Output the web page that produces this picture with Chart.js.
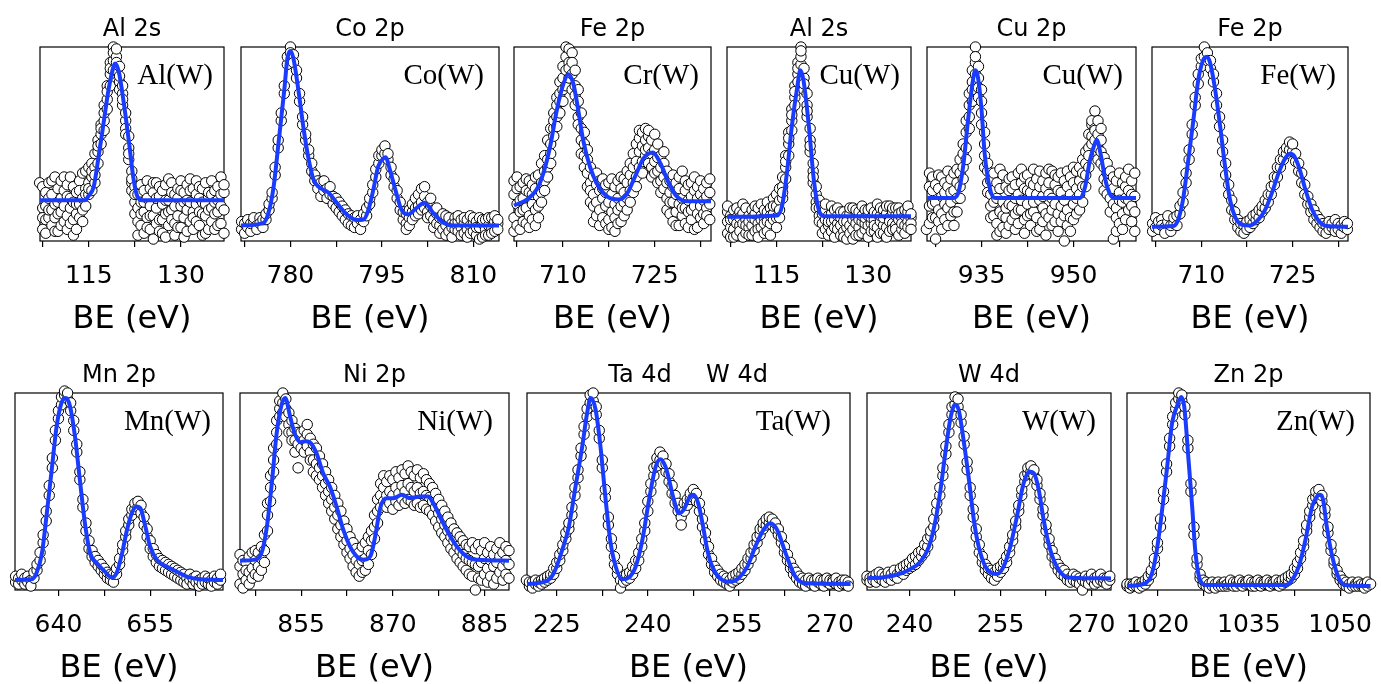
<!DOCTYPE html>
<html>
<head>
<meta charset="utf-8">
<script src="https://cdn.jsdelivr.net/npm/chart.js@4.4.0/dist/chart.umd.min.js"></script>
<style>
  html, body { margin: 0; padding: 0; background: #fff; }
  #wrap { position: relative; width: 1381px; height: 684px; overflow: hidden; }
  .panel { position: absolute; }
</style>
</head>
<body>
<div id="wrap"></div>
<script>
// intensity is in % of the panel height (0 = frame bottom, 100 = frame top)
// obs rows: [BE, counts, counts, ...] - several scans read at the same energy

// ---- Al 2s / Al(W) ----
const alFitX = [107.06, 114.4, 114.9, 115.8, 116.6, 117.4, 118.2, 119.1, 119.3, 119.9, 120.7, 121.5, 122.3, 122.9, 123.7, 137];
const alFitY = [21, 21, 23, 28, 43.6, 60.7, 77.8, 90.6, 91.5, 87, 71, 52, 31.6, 23, 21, 21];
const alObs = [
  [107.0, 21, 9, 14, 30], [107.5, 28, 6, 17, 12], [108.0, 18, 25, 11, 4], [108.5, 12, 30, 22, 16], [109.0, 24, 8, 16, 31],
  [109.5, 19, 33, 12, 5], [110.0, 27, 14, 5, 20], [110.5, 15, 22, 31, 8], [111.0, 10, 26, 18, 33], [111.5, 23, 13, 29, 6],
  [112.0, 17, 33, 9, 22], [112.5, 28, 11, 20, 3], [113.0, 14, 25, 6, 19], [113.5, 31, 19, 12, 26], [114.0, 22, 35, 16, 10],
  [114.5, 27, 18, 36, 24], [115.0, 30, 24, 38, 27], [115.5, 33, 26, 40, 36], [116.0, 38, 45, 30, 34], [116.5, 46, 52, 40, 49],
  [117.0, 55, 60, 50, 58], [117.5, 62, 70, 57, 66], [118.0, 73, 80, 68, 77], [118.5, 86, 92, 80, 89], [119.0, 93, 100, 88, 97],
  [119.5, 95, 88, 99, 92], [120.0, 90, 82, 85, 78], [120.5, 76, 70, 80, 73], [121.0, 62, 58, 66, 55], [121.5, 48, 54, 42, 45],
  [122.0, 36, 30, 26, 32], [122.5, 20, 28, 14, 24], [123.0, 24, 10, 17, 3], [123.5, 8, 20, 29, 14], [124.0, 15, 26, 4, 20],
  [124.5, 22, 12, 31, 7], [125.0, 6, 18, 27, 13], [125.5, 25, 13, 1, 30], [126.0, 17, 30, 9, 22], [126.5, 11, 23, 28, 5],
  [127.0, 26, 4, 19, 11], [127.5, 14, 29, 21, 2], [128.0, 21, 8, 32, 15], [128.5, 30, 16, 11, 25], [129.0, 9, 24, 18, 3],
  [129.5, 27, 13, 22, 7], [130.0, 18, 31, 7, 26], [130.5, 12, 25, 20, 2], [131.0, 29, 16, 5, 21], [131.5, 20, 10, 26, 32],
  [132.0, 15, 27, 12, 6], [132.5, 24, 19, 31, 10], [133.0, 8, 22, 28, 15], [133.5, 27, 14, 3, 20], [134.0, 19, 30, 13, 4],
  [134.5, 23, 6, 25, 16], [135.0, 31, 17, 10, 24], [135.5, 14, 26, 20, 6], [136.0, 28, 21, 8, 15], [136.5, 18, 33, 24, 9],
  [137.0, 25, 16, 29, 4]
];
const alTicks = [107.5, 115, 122.5, 130];

// ---- Co 2p / Co(W) ----
const coFitX = [771.9, 775.6, 776.4, 777.25, 778.1, 779.0, 779.5, 780.0, 780.5, 781.3, 782.2, 783.0, 783.8, 784.6, 786.3, 787.6, 789.25, 790.9, 792.0, 792.8, 793.6, 794.4, 795.3, 795.6, 796.3, 797.2, 798.2, 799.3, 800.7, 802.0, 803.4, 805.1, 806.7, 814.2];
const coFitY = [8, 9.4, 14.5, 28, 52, 78, 94, 98, 94, 78, 57, 42, 31.6, 28, 24.8, 19.7, 13.7, 10.8, 11.1, 16.2, 26.5, 38.5, 42.7, 43.2, 36.8, 26.5, 16.2, 13.7, 17.1, 19.7, 14.5, 9.4, 8, 8];
const coObs = [
  [772.0, 6, 10], [772.5, 9, 4], [773.0, 11, 7], [773.5, 5, 9], [774.0, 10, 12], [774.5, 8, 6],
  [775.0, 12, 9], [775.5, 7, 11], [776.0, 11, 14], [776.5, 16, 19], [777.0, 22, 25], [777.5, 34, 38],
  [778.0, 48, 52], [778.5, 62, 66], [779.0, 76, 80], [779.5, 91, 95], [780.0, 100, 97], [780.5, 96, 92],
  [781.0, 84, 88], [781.5, 72, 76], [782.0, 60, 64], [782.5, 52, 55], [783.0, 44, 47], [783.5, 36, 40],
  [784.0, 31, 34], [784.5, 27, 31], [785.0, 23, 30], [785.5, 26, 31], [786.0, 22, 27], [786.5, 24, 28],
  [787.0, 19, 23], [787.5, 17, 22], [788.0, 15, 20], [788.5, 13, 18], [789.0, 11, 16], [789.5, 9, 14],
  [790.0, 8, 13], [790.5, 7, 12], [791.0, 9, 13], [791.5, 6, 11], [792.0, 10, 14], [792.5, 13, 17],
  [793.0, 19, 22], [793.5, 25, 29], [794.0, 33, 37], [794.5, 40, 44], [795.0, 44, 47], [795.5, 45, 49],
  [796.0, 42, 45], [796.5, 34, 38], [797.0, 28, 32], [797.5, 22, 26], [798.0, 16, 20], [798.5, 11, 15],
  [799.0, 9, 14, 6], [799.5, 12, 16, 8], [800.0, 15, 19, 11], [800.5, 17, 22, 13], [801.0, 18, 24, 14], [801.5, 20, 27, 16],
  [802.0, 17, 23, 28], [802.5, 15, 20, 12], [803.0, 13, 18, 22], [803.5, 11, 16, 7], [804.0, 9, 14, 17], [804.5, 8, 12, 4],
  [805.0, 6, 11, 14], [805.5, 8, 13, 3], [806.0, 5, 10, 12], [806.5, 9, 7, 2], [807.0, 6, 12, 9], [807.5, 10, 5, 13],
  [808.0, 7, 11, 3], [808.5, 4, 9, 12], [809.0, 11, 6, 2], [809.5, 8, 13, 4], [810.0, 5, 9, 12], [810.5, 10, 3, 7],
  [811.0, 7, 12, 1], [811.5, 2, 9, 11], [812.0, 11, 6, 3], [812.5, 8, 3, 12], [813.0, 12, 7, 4], [813.5, 5, 10, 13],
  [814.0, 9, 6, 11]
];
const coTicks = [772.5, 780, 787.5, 795, 802.5, 810];

// ---- Fe 2p / Cr(W) ----
const crFitX = [702, 704.1, 705.7, 706.8, 707.9, 709.0, 710.1, 710.9, 711.7, 712.5, 713.3, 714.4, 715.5, 717.2, 719.1, 720.4, 721.8, 723.2, 724.7, 725.9, 727.3, 728.6, 730.3, 734.2];
const crFitY = [18.3, 21.4, 26.5, 35, 48.7, 67.5, 81.2, 86, 81, 67.5, 52, 38.5, 29.9, 23, 21.4, 24, 33.3, 42.7, 45.6, 40.2, 29.9, 23, 20.5, 20.5];
const crObs = [
  [702.0, 12, 24, 31, 5], [702.5, 8, 19, 27, 33], [703.0, 15, 28, 6, 21], [703.5, 22, 10, 30, 16], [704.0, 17, 26, 9, 32],
  [704.5, 25, 13, 31, 7], [705.0, 19, 29, 11, 24], [705.5, 27, 16, 33, 8], [706.0, 23, 34, 18, 12], [706.5, 30, 40, 25, 20],
  [707.0, 36, 44, 31, 26], [707.5, 42, 52, 38, 33], [708.0, 50, 58, 45, 40], [708.5, 58, 66, 54, 62], [709.0, 64, 74, 70, 59],
  [709.5, 72, 82, 76, 66], [710.0, 78, 90, 84, 72], [710.5, 88, 80, 95, 100], [711.0, 92, 84, 99, 89], [711.5, 86, 97, 78, 92],
  [712.0, 80, 70, 88, 75], [712.5, 72, 64, 60, 78], [713.0, 58, 66, 52, 45], [713.5, 50, 44, 56, 38], [714.0, 42, 35, 47, 28],
  [714.5, 38, 30, 26, 20], [715.0, 33, 24, 18, 10], [715.5, 29, 20, 13, 35], [716.0, 26, 16, 31, 8], [716.5, 22, 12, 27, 32],
  [717.0, 9, 25, 18, 29], [717.5, 20, 30, 11, 6], [718.0, 15, 24, 7, 32], [718.5, 28, 19, 12, 5], [719.0, 22, 31, 16, 9],
  [719.5, 18, 27, 33, 10], [720.0, 25, 32, 20, 13], [720.5, 30, 22, 36, 16], [721.0, 34, 26, 40, 20], [721.5, 38, 30, 45, 25],
  [722.0, 41, 33, 50, 28], [722.5, 46, 38, 53, 57], [723.0, 49, 41, 56, 35], [723.5, 52, 44, 47, 58], [724.0, 48, 54, 40, 57],
  [724.5, 45, 52, 38, 33], [725.0, 47, 41, 55, 35], [725.5, 43, 36, 50, 30], [726.0, 38, 44, 31, 25], [726.5, 33, 40, 27, 46],
  [727.0, 30, 22, 36, 16], [727.5, 25, 31, 14, 20], [728.0, 20, 28, 10, 34], [728.5, 24, 15, 30, 8], [729.0, 19, 27, 8, 33],
  [729.5, 22, 13, 36, 17], [730.0, 26, 17, 9, 31], [730.5, 15, 29, 21, 7], [731.0, 23, 11, 30, 16], [731.5, 18, 26, 6, 33],
  [732.0, 28, 14, 22, 7], [732.5, 12, 24, 31, 18], [733.0, 21, 9, 27, 14], [733.5, 17, 30, 13, 23], [734.0, 25, 19, 11, 32]
];
const crTicks = [702.5, 710, 717.5, 725, 732.5];

// ---- Al 2s / Cu(W) ----
const cuaFitX = [106.9, 115.1, 115.9, 116.7, 117.5, 118.4, 118.9, 119.4, 120.3, 121.1, 121.9, 122.7, 137];
const cuaFitY = [12.5, 13.2, 18, 35, 59, 79.5, 88, 83, 59, 31.6, 16.2, 12.8, 12.8];
const cuaObs = [
  [107.0, 10, 4, 15, 18], [107.5, 13, 7, 2, 11], [108.0, 6, 16, 11, 2], [108.5, 12, 3, 9, 17], [109.0, 15, 8, 5, 12],
  [109.5, 9, 14, 2, 19], [110.0, 4, 11, 17, 8], [110.5, 13, 7, 10, 3], [111.0, 8, 16, 3, 12], [111.5, 11, 5, 14, 18],
  [112.0, 17, 9, 6, 2], [112.5, 7, 13, 19, 11], [113.0, 12, 4, 9, 16], [113.5, 15, 10, 20, 5], [114.0, 9, 17, 13, 3],
  [114.5, 14, 22, 11, 18], [115.0, 18, 12, 24, 7], [115.5, 21, 16, 27, 12], [116.0, 28, 22, 33, 25], [116.5, 38, 32, 44, 41],
  [117.0, 50, 44, 56, 53], [117.5, 62, 57, 68, 65], [118.0, 74, 70, 80, 77], [118.5, 86, 82, 92, 89], [119.0, 100, 91, 95, 98],
  [119.5, 84, 89, 78, 81], [120.0, 70, 76, 64, 67], [120.5, 52, 58, 46, 49], [121.0, 36, 40, 30, 33], [121.5, 24, 28, 20, 17],
  [122.0, 17, 21, 13, 10], [122.5, 14, 9, 18, 4], [123.0, 11, 16, 6, 19], [123.5, 8, 13, 3, 10], [124.0, 14, 5, 10, 18],
  [124.5, 2, 11, 16, 7], [125.0, 9, 6, 13, 17], [125.5, 12, 3, 8, 15], [126.0, 5, 10, 15, 2], [126.5, 13, 1, 7, 10],
  [127.0, 8, 14, 4, 17], [127.5, 11, 6, 17, 1], [128.0, 3, 12, 9, 16], [128.5, 15, 7, 11, 3], [129.0, 10, 4, 13, 18],
  [129.5, 6, 16, 9, 12], [130.0, 13, 8, 2, 16], [130.5, 9, 17, 12, 5], [131.0, 5, 11, 15, 8], [131.5, 14, 7, 19, 2],
  [132.0, 10, 13, 4, 17], [132.5, 16, 8, 12, 4], [133.0, 7, 14, 18, 2], [133.5, 12, 5, 10, 18], [134.0, 15, 9, 17, 6],
  [134.5, 8, 13, 6, 17], [135.0, 11, 17, 14, 3], [135.5, 6, 12, 9, 15], [136.0, 13, 8, 16, 4], [136.5, 10, 15, 7, 18],
  [137.0, 12, 9, 14, 6]
];
const cuaTicks = [107.5, 115, 122.5, 130];

// ---- Cu 2p / Cu(W) ----
const cuFitX = [926.1, 930.4, 931.2, 932.0, 932.8, 933.6, 934.0, 934.4, 935.0, 935.5, 936.4, 937.2, 951.1, 951.9, 952.7, 953.5, 953.8, 954.4, 955.2, 956.0, 956.8, 960.2];
const cuFitY = [22.2, 22.2, 24.8, 38.5, 62.4, 83, 88, 84.6, 67.5, 45.3, 26.5, 22.2, 22.2, 28, 41.9, 50.4, 52, 45.3, 31.6, 24, 22.2, 22.2];
const cuObs = [
  [926.0, 24, 14, 31, 6], [926.5, 18, 28, 9, 35], [927.0, 26, 12, 33, 19], [927.5, 1, 20, 29, 12], [928.0, 16, 27, 10, 34],
  [928.5, 23, 33, 14, 6], [929.0, 11, 25, 30, 19], [929.5, 28, 17, 8, 36], [930.0, 20, 32, 13, 25], [930.5, 26, 15, 35, 8],
  [931.0, 30, 22, 37, 15], [931.5, 35, 42, 28, 22], [932.0, 45, 50, 38, 32], [932.5, 56, 62, 48, 42], [933.0, 70, 76, 64, 58],
  [933.5, 82, 88, 78, 72], [934.0, 92, 100, 86, 95], [934.5, 84, 90, 79, 74], [935.0, 72, 66, 60, 78], [935.5, 50, 56, 44, 38],
  [936.0, 36, 30, 40, 25], [936.5, 24, 18, 31, 12], [937.0, 13, 26, 20, 35], [937.5, 9, 22, 30, 3], [938.0, 15, 27, 5, 37],
  [938.5, 20, 7, 34, 13], [939.0, 12, 28, 17, 4], [939.5, 26, 8, 32, 19], [940.0, 18, 33, 11, 27], [940.5, 14, 29, 22, 6],
  [941.0, 24, 9, 35, 16], [941.5, 30, 16, 21, 37], [942.0, 11, 27, 33, 4], [942.5, 19, 34, 13, 26], [943.0, 25, 8, 30, 14],
  [943.5, 15, 29, 20, 37], [944.0, 32, 12, 24, 5], [944.5, 21, 6, 28, 36], [945.0, 17, 31, 10, 23], [945.5, 27, 14, 35, 3],
  [946.0, 12, 24, 30, 37], [946.5, 22, 36, 16, 8], [947.0, 29, 10, 19, 34], [947.5, 14, 26, 33, 5], [948.0, 25, 35, 18, 10],
  [948.5, 0, 21, 31, 13], [949.0, 16, 28, 36, 8], [949.5, 24, 33, 12, 5], [950.0, 19, 30, 38, 11], [950.5, 27, 36, 22, 14],
  [951.0, 31, 24, 38, 16], [951.5, 35, 28, 42, 20], [952.0, 40, 46, 34, 28], [952.5, 48, 55, 44, 38], [953.0, 54, 60, 50, 62],
  [953.5, 58, 67, 52, 57], [954.0, 55, 62, 48, 42], [954.5, 46, 52, 40, 58], [955.0, 38, 43, 32, 26], [955.5, 30, 35, 24, 40],
  [956.0, 22, 30, 15, 36], [956.5, 27, 1, 19, 33], [957.0, 17, 31, 12, 5], [957.5, 25, 35, 9, 21], [958.0, 20, 14, 30, 6],
  [958.5, 28, 11, 33, 22], [959.0, 16, 26, 21, 37], [959.5, 31, 18, 10, 24], [960.0, 23, 35, 15, 5]
];
const cuTicks = [927.5, 935, 942.5, 950, 957.5];

// ---- Fe 2p / Fe(W) ----
const feFitX = [701.9, 705.4, 706.2, 707.0, 707.8, 708.7, 709.5, 710.3, 710.9, 711.4, 712.2, 713.1, 713.9, 714.7, 715.5, 716.6, 718.0, 719.4, 720.5, 721.6, 722.7, 723.8, 724.6, 725.1, 726.0, 727.1, 728.2, 729.3, 730.6, 734.1];
const feFitY = [7.4, 7.7, 11.1, 21.4, 40.2, 62.4, 83, 93.2, 94.9, 92.3, 79.5, 59, 38.5, 21.4, 12.8, 8.5, 8, 11.1, 16.2, 24.8, 35, 42.7, 45, 44.4, 38.5, 26.5, 16.2, 10.3, 7.7, 7.4];
const feObs = [
  [702.0, 9, 5], [702.5, 12, 7], [703.0, 6, 10], [703.5, 11, 8], [704.0, 7, 4], [704.5, 10, 13],
  [705.0, 5, 8], [705.5, 9, 12], [706.0, 8, 13], [706.5, 14, 18], [707.0, 20, 25], [707.5, 30, 35],
  [708.0, 42, 47], [708.5, 55, 60], [709.0, 70, 74], [709.5, 81, 86], [710.0, 90, 94], [710.5, 95, 100],
  [711.0, 97, 93], [711.5, 89, 93], [712.0, 82, 86], [712.5, 70, 76], [713.0, 59, 64], [713.5, 46, 52],
  [714.0, 34, 40], [714.5, 24, 29], [715.0, 16, 21], [715.5, 11, 15], [716.0, 7, 11], [716.5, 5, 9],
  [717.0, 8, 4], [717.5, 10, 6], [718.0, 7, 11], [718.5, 9, 13], [719.0, 11, 14], [719.5, 12, 16],
  [720.0, 15, 18], [720.5, 17, 21], [721.0, 20, 24], [721.5, 24, 28], [722.0, 29, 33], [722.5, 33, 38],
  [723.0, 38, 42], [723.5, 42, 46], [724.0, 45, 48], [724.5, 47, 51], [725.0, 46, 50], [725.5, 41, 45],
  [726.0, 36, 40], [726.5, 30, 35], [727.0, 24, 29], [727.5, 19, 23], [728.0, 15, 19], [728.5, 11, 16],
  [729.0, 9, 13], [729.5, 7, 11], [730.0, 5, 9], [730.5, 8, 4], [731.0, 10, 6], [731.5, 7, 9],
  [732.0, 5, 11], [732.5, 9, 6], [733.0, 4, 8], [733.5, 10, 7], [734.0, 6, 9]
];
const feTicks = [702.5, 710, 717.5, 725, 732.5];

// ---- Mn 2p / Mn(W) ----
const mnFitX = [632.9, 635.6, 636.4, 637.3, 638.1, 638.9, 639.7, 640.5, 641.2, 641.9, 642.7, 643.5, 644.4, 645.2, 646.3, 647.6, 648.7, 649.5, 650.4, 651.2, 652.0, 652.8, 653.4, 654.2, 655.0, 656.1, 657.7, 659.4, 661.0, 663.2, 666.9];
const mnFitY = [5.1, 5.4, 8.5, 18.6, 39, 61, 83, 95, 97.5, 93.2, 78, 56, 32.2, 18.6, 13.6, 9.3, 6.4, 8.5, 18.6, 30.5, 39, 42.4, 41.5, 32.2, 22, 15.3, 11.9, 9.3, 6.8, 5.4, 5.1];
const mnObs = [
  [633.0, 4, 7], [633.5, 6, 3], [634.0, 5, 8], [634.5, 3, 6], [635.0, 7, 4], [635.5, 5, 2],
  [636.0, 6, 9], [636.5, 10, 13], [637.0, 15, 19], [637.5, 24, 28], [638.0, 35, 40], [638.5, 48, 53],
  [639.0, 62, 67], [639.5, 76, 81], [640.0, 87, 91], [640.5, 94, 98], [641.0, 99, 101], [641.5, 97, 100],
  [642.0, 91, 95], [642.5, 81, 86], [643.0, 70, 74], [643.5, 56, 60], [644.0, 42, 46], [644.5, 30, 34],
  [645.0, 21, 25], [645.5, 17, 20], [646.0, 14, 17], [646.5, 12, 15], [647.0, 10, 13], [647.5, 8, 11],
  [648.0, 6, 9], [648.5, 5, 8], [649.0, 4, 8], [649.5, 8, 11], [650.0, 13, 16], [650.5, 20, 23],
  [651.0, 27, 30], [651.5, 33, 36], [652.0, 38, 41], [652.5, 41, 44], [653.0, 42, 45], [653.5, 39, 43],
  [654.0, 33, 37], [654.5, 27, 31], [655.0, 21, 25], [655.5, 17, 21], [656.0, 14, 18], [656.5, 12, 16],
  [657.0, 11, 15], [657.5, 10, 14], [658.0, 9, 13], [658.5, 8, 12], [659.0, 7, 11], [659.5, 6, 10],
  [660.0, 5, 9], [660.5, 4, 8], [661.0, 6, 3], [661.5, 5, 8], [662.0, 3, 6], [662.5, 7, 4],
  [663.0, 2, 5], [663.5, 6, 3], [664.0, 4, 7], [664.5, 3, 6], [665.0, 5, 2], [665.5, 7, 4],
  [666.0, 3, 6], [666.5, 5, 8]
];
const mnTicks = [640, 647.5, 655, 662.5];

// ---- Ni 2p / Ni(W) ----
const niFitX = [845, 847.2, 848.5, 849.4, 850.2, 851.0, 851.8, 852.4, 853.2, 854.0, 854.9, 855.7, 856.4, 857.5, 858.6, 859.7, 860.8, 861.9, 863.0, 864.1, 865.2, 866.3, 867.1, 868.0, 869.0, 870.1, 871.5, 872.8, 874.5, 875.8, 876.6, 877.7, 879.1, 880.5, 882.1, 883.7, 889];
const niFitY = [14.9, 15.3, 18.6, 32.2, 54.2, 79.7, 94, 97.5, 88, 79, 75, 75.5, 75, 69.5, 59.3, 52.5, 42.4, 30.5, 22, 17, 15.3, 17, 27, 42.4, 46.6, 46.6, 48.3, 46.6, 47.5, 47.5, 44, 37.3, 28.8, 22, 17, 15.3, 14.9];
const niObs = [
  [845.0, 12, 3, 18], [845.5, 8, 15, 1], [846.0, 14, 5, 10], [846.5, 17, 9, 3], [847.0, 11, 19, 6],
  [847.5, 15, 8, 20], [848.0, 19, 12, 7], [848.5, 22, 16, 10], [849.0, 28, 20, 14], [849.5, 38, 30, 44],
  [850.0, 52, 45, 58], [850.5, 66, 60, 72], [851.0, 80, 74, 86], [851.5, 92, 88, 96], [852.0, 100, 95, 90],
  [852.5, 97, 92, 88], [853.0, 90, 84, 80], [853.5, 86, 80, 76], [854.0, 82, 76, 70], [854.5, 80, 74, 62],
  [855.0, 78, 72, 80], [855.5, 81, 76, 70], [856.0, 79, 73, 84], [856.5, 77, 70, 66], [857.0, 74, 66, 60],
  [857.5, 72, 64, 58], [858.0, 68, 62, 56], [858.5, 64, 58, 52], [859.0, 60, 54, 48], [859.5, 56, 50, 44],
  [860.0, 52, 46, 40], [860.5, 48, 42, 36], [861.0, 44, 38, 31], [861.5, 40, 33, 27], [862.0, 35, 29, 23],
  [862.5, 31, 25, 19], [863.0, 27, 21, 16], [863.5, 24, 18, 12], [864.0, 21, 15, 9], [864.5, 19, 13, 7],
  [865.0, 22, 15, 9], [865.5, 24, 16, 10], [866.0, 20, 13, 27], [866.5, 25, 18, 30], [867.0, 32, 26, 38],
  [867.5, 40, 34, 46], [868.0, 48, 42, 54], [868.5, 52, 45, 58], [869.0, 55, 48, 42], [869.5, 58, 50, 44],
  [870.0, 56, 48, 41], [870.5, 60, 52, 45], [871.0, 57, 49, 43], [871.5, 61, 53, 46], [872.0, 59, 50, 44],
  [872.5, 63, 54, 46], [873.0, 60, 52, 45], [873.5, 58, 50, 43], [874.0, 61, 52, 44], [874.5, 57, 49, 42],
  [875.0, 59, 50, 43], [875.5, 56, 48, 41], [876.0, 54, 47, 40], [876.5, 52, 45, 38], [877.0, 49, 42, 35],
  [877.5, 46, 39, 32], [878.0, 43, 36, 29], [878.5, 40, 33, 27], [879.0, 37, 30, 24], [879.5, 34, 27, 21],
  [880.0, 31, 25, 19], [880.5, 29, 22, 16], [881.0, 27, 20, 14], [881.5, 25, 18, 12], [882.0, 23, 16, 10],
  [882.5, 22, 15, 8], [883.0, 24, 14, 7], [883.5, 21, 13, 0], [884.0, 23, 12, 6], [884.5, 20, 14, 5],
  [885.0, 24, 16, 8], [885.5, 19, 11, 4], [886.0, 22, 15, 7], [886.5, 18, 12, 3], [887.0, 21, 14, 6],
  [887.5, 24, 17, 9], [888.0, 19, 12, 5], [888.5, 22, 15, 8], [889.0, 20, 13, 6]
];
const niTicks = [847.5, 855, 862.5, 870, 877.5, 885];

// ---- Ta 4d, W 4d / Ta(W) ----
const taFitX = [220.1, 223.1, 224.5, 225.9, 227.0, 228.0, 229.2, 230.0, 230.6, 231.4, 232.2, 233.0, 233.8, 234.7, 235.8, 236.9, 238.0, 239.1, 240.2, 241.3, 242.1, 242.9, 243.3, 244.3, 245.1, 245.9, 246.8, 247.5, 248.3, 249.0, 249.8, 250.6, 251.9, 253.6, 254.9, 256.4, 257.7, 259.1, 260.2, 261.3, 262.7, 264.3, 266.0, 273.4];
const taFitY = [3.1, 4.2, 8.5, 20.3, 32.2, 50.8, 72.9, 89.8, 97.5, 91.5, 72.9, 47.5, 25.4, 11.9, 5.4, 6.4, 11.9, 25.4, 45.8, 62.7, 66.4, 62.7, 58.5, 45.8, 39, 40.7, 46.6, 48.3, 44, 33.9, 20.3, 11.9, 5.9, 4.2, 5.9, 11.9, 22, 30.8, 33.9, 30.5, 18.6, 6.8, 3.4, 3.1];
const taObs = [
  [220.0, 3, 5], [220.5, 2, 4], [221.0, 4, 1], [221.5, 3, 5], [222.0, 2, 4], [222.5, 5, 3],
  [223.0, 4, 6], [223.5, 5, 7], [224.0, 6, 8], [224.5, 8, 11], [225.0, 11, 14], [225.5, 15, 18],
  [226.0, 20, 23], [226.5, 26, 29], [227.0, 31, 34], [227.5, 38, 42], [228.0, 48, 52], [228.5, 57, 61],
  [229.0, 68, 72], [229.5, 79, 83], [230.0, 88, 92], [230.5, 95, 99], [231.0, 96, 100], [231.5, 89, 93],
  [232.0, 77, 81], [232.5, 62, 66], [233.0, 47, 51], [233.5, 33, 37], [234.0, 22, 26], [234.5, 13, 17],
  [235.0, 8, 11], [235.5, 5, 1], [236.0, 4, 7], [236.5, 5, 8], [237.0, 6, 9], [237.5, 8, 12],
  [238.0, 11, 15], [238.5, 15, 19], [239.0, 22, 26], [239.5, 30, 34], [240.0, 40, 45], [240.5, 50, 54],
  [241.0, 58, 62], [241.5, 63, 67], [242.0, 66, 70], [242.5, 64, 68], [243.0, 60, 64], [243.5, 55, 59],
  [244.0, 49, 53], [244.5, 44, 48], [245.0, 40, 44], [245.5, 37, 41, 33], [246.0, 40, 44], [246.5, 43, 46],
  [247.0, 46, 49], [247.5, 47, 51], [248.0, 45, 49], [248.5, 40, 44], [249.0, 32, 36], [249.5, 25, 29],
  [250.0, 18, 22], [250.5, 13, 16], [251.0, 9, 12], [251.5, 7, 10], [252.0, 5, 8], [252.5, 4, 7],
  [253.0, 3, 6], [253.5, 2, 5], [254.0, 4, 7], [254.5, 5, 8], [255.0, 6, 9], [255.5, 8, 11],
  [256.0, 10, 13], [256.5, 13, 16], [257.0, 16, 19], [257.5, 20, 23], [258.0, 24, 27], [258.5, 28, 31],
  [259.0, 31, 34], [259.5, 33, 36], [260.0, 34, 37], [260.5, 33, 36], [261.0, 31, 34], [261.5, 28, 31],
  [262.0, 24, 27], [262.5, 19, 22], [263.0, 15, 18], [263.5, 11, 14], [264.0, 8, 11], [264.5, 6, 9],
  [265.0, 4, 7], [265.5, 3, 6], [266.0, 2, 5], [266.5, 4, 6], [267.0, 3, 5], [267.5, 5, 2],
  [268.0, 4, 6], [268.5, 3, 5], [269.0, 5, 2], [269.5, 4, 6], [270.0, 3, 5], [270.5, 5, 4],
  [271.0, 3, 6], [271.5, 4, 2], [272.0, 5, 3], [272.5, 3, 5], [273.0, 4, 2]
];
const taTicks = [225, 232.5, 240, 247.5, 255, 262.5, 270];

// ---- W 4d / W(W) ----
const wFitX = [233, 235.5, 237.7, 239.9, 241.8, 243.2, 244.3, 245.1, 245.9, 246.7, 247.5, 248.1, 248.9, 249.8, 250.6, 251.4, 252.5, 253.6, 254.4, 255.5, 256.6, 257.7, 258.8, 259.8, 260.5, 261.3, 262.1, 263.2, 264.6, 266.2, 273.2];
const wFitY = [5.9, 6.4, 7.6, 10.2, 14.4, 22, 35.6, 50.8, 69.5, 86.4, 94, 91.5, 76.3, 55.9, 35.6, 22, 11.9, 8.5, 8.1, 11.9, 22, 37.3, 54.2, 60.2, 59.3, 50.8, 35.6, 20.3, 10.2, 6.4, 5.9];
const wObs = [
  [233.0, 5, 7], [233.5, 6, 4], [234.0, 7, 5], [234.5, 4, 8], [235.0, 6, 9], [235.5, 5, 8],
  [236.0, 7, 4], [236.5, 6, 9], [237.0, 8, 5], [237.5, 7, 10], [238.0, 8, 6], [238.5, 9, 11],
  [239.0, 8, 12], [239.5, 10, 13], [240.0, 11, 14], [240.5, 12, 16], [241.0, 13, 17], [241.5, 15, 19],
  [242.0, 17, 20], [242.5, 19, 23], [243.0, 22, 26], [243.5, 27, 30], [244.0, 32, 36], [244.5, 40, 44],
  [245.0, 48, 52], [245.5, 58, 62], [246.0, 69, 73], [246.5, 80, 84], [247.0, 89, 93], [247.5, 94, 98],
  [248.0, 93, 97], [248.5, 85, 89], [249.0, 74, 78], [249.5, 61, 65], [250.0, 48, 52], [250.5, 37, 41],
  [251.0, 27, 31], [251.5, 19, 23], [252.0, 14, 17], [252.5, 10, 13], [253.0, 8, 11], [253.5, 6, 10],
  [254.0, 5, 9], [254.5, 7, 11], [255.0, 9, 12], [255.5, 11, 14], [256.0, 14, 17], [256.5, 19, 22],
  [257.0, 25, 28], [257.5, 32, 35], [258.0, 40, 43], [258.5, 48, 51], [259.0, 55, 58], [259.5, 59, 62],
  [260.0, 60, 63], [260.5, 58, 61], [261.0, 53, 56], [261.5, 46, 49], [262.0, 38, 41], [262.5, 30, 33],
  [263.0, 23, 26], [263.5, 17, 20], [264.0, 13, 16], [264.5, 10, 13], [265.0, 8, 11], [265.5, 7, 10],
  [266.0, 5, 8], [266.5, 6, 4], [267.0, 5, 8], [267.5, 4, 7], [268.0, 6, 3], [268.5, 0, 5],
  [269.0, 4, 7], [269.5, 6, 3], [270.0, 5, 8], [270.5, 3, 6], [271.0, 7, 4], [271.5, 5, 8],
  [272.0, 4, 6], [272.5, 6, 3], [273.0, 5, 7]
];
const wTicks = [240, 247.5, 255, 262.5, 270];

// ---- Zn 2p / Zn(W) ----
const znFitX = [1015, 1018, 1019.1, 1019.9, 1020.7, 1021.6, 1022.4, 1023.3, 1023.9, 1024.4, 1025.1, 1025.7, 1026.2, 1027, 1028.1, 1041, 1042.1, 1043.2, 1044.3, 1045.4, 1046.2, 1046.7, 1047.2, 1047.8, 1048.7, 1049.8, 1050.9, 1055];
const znFitY = [2, 3.4, 8.5, 20.3, 39, 62.7, 84.7, 94, 98, 93, 66.1, 42.4, 20.3, 5.1, 2.5, 2.5, 5.1, 11.9, 25.4, 42.4, 47.5, 48.3, 45.8, 32.2, 17, 5.9, 2.5, 2];
const znObs = [
  [1015.0, 2, 3], [1015.5, 1, 3], [1016.0, 3, 2], [1016.5, 2, 4], [1017.0, 3, 1], [1017.5, 4, 2],
  [1018.0, 3, 5], [1018.5, 5, 7], [1019.0, 8, 10], [1019.5, 13, 16], [1020.0, 21, 24], [1020.5, 32, 36],
  [1021.0, 46, 50], [1021.5, 60, 64], [1022.0, 73, 77], [1022.5, 84, 88], [1023.0, 92, 95], [1023.5, 97, 100],
  [1024.0, 96, 99], [1024.5, 89, 93], [1025.0, 72, 76], [1025.5, 50, 54], [1026.0, 28, 32], [1026.5, 13, 16],
  [1027.0, 6, 8], [1027.5, 3, 5], [1028.0, 2, 4], [1028.5, 3, 1], [1029.0, 2, 4], [1029.5, 3, 1],
  [1030.0, 2, 4], [1030.5, 3, 2], [1031.0, 4, 2], [1031.5, 2, 3], [1032.0, 3, 5], [1032.5, 2, 4],
  [1033.0, 4, 2], [1033.5, 3, 5], [1034.0, 2, 4], [1034.5, 4, 3], [1035.0, 3, 5], [1035.5, 2, 4],
  [1036.0, 4, 2], [1036.5, 3, 5], [1037.0, 2, 4], [1037.5, 4, 3], [1038.0, 3, 5], [1038.5, 2, 4],
  [1039.0, 4, 3], [1039.5, 3, 5], [1040.0, 4, 2], [1040.5, 3, 5], [1041.0, 4, 6], [1041.5, 5, 7],
  [1042.0, 6, 8], [1042.5, 8, 11], [1043.0, 11, 14], [1043.5, 16, 19], [1044.0, 22, 25], [1044.5, 30, 33],
  [1045.0, 37, 40], [1045.5, 43, 46], [1046.0, 47, 50], [1046.5, 48, 51], [1047.0, 45, 48], [1047.5, 38, 41],
  [1048.0, 29, 32], [1048.5, 20, 23], [1049.0, 13, 15], [1049.5, 8, 10], [1050.0, 5, 7], [1050.5, 3, 5],
  [1051.0, 2, 4], [1051.5, 3, 1], [1052.0, 2, 4], [1052.5, 3, 2], [1053.0, 4, 2], [1053.5, 2, 3],
  [1054.0, 3, 1], [1054.5, 2, 4], [1055.0, 3, 2]
];
const znTicks = [1020, 1027.5, 1035, 1042.5, 1050];

// panel layout: frame [left, top, right, bottom] in page pixels
const panels = [
  { titles: [["Al 2s"]], label: "Al(W)", fitX: alFitX, fitY: alFitY, obs: alObs, ticks: alTicks, xmin: 107.06, xmax: 137.0, row: 0, box: [40, 47, 224, 241], inset: 11 },
  { titles: [["Co 2p"]], label: "Co(W)", fitX: coFitX, fitY: coFitY, obs: coObs, ticks: coTicks, xmin: 771.9, xmax: 814.2, row: 0, box: [241, 47, 499, 241], inset: 15 },
  { titles: [["Fe 2p"]], label: "Cr(W)", fitX: crFitX, fitY: crFitY, obs: crObs, ticks: crTicks, xmin: 702.0, xmax: 734.2, row: 0, box: [514, 47, 711, 241], inset: 12 },
  { titles: [["Al 2s"]], label: "Cu(W)", fitX: cuaFitX, fitY: cuaFitY, obs: cuaObs, ticks: cuaTicks, xmin: 106.9, xmax: 137.0, row: 0, box: [727, 47, 911, 241], inset: 11 },
  { titles: [["Cu 2p"]], label: "Cu(W)", fitX: cuFitX, fitY: cuFitY, obs: cuObs, ticks: cuTicks, xmin: 926.1, xmax: 960.2, row: 0, box: [927, 47, 1136, 241], inset: 13 },
  { titles: [["Fe 2p"]], label: "Fe(W)", fitX: feFitX, fitY: feFitY, obs: feObs, ticks: feTicks, xmin: 701.9, xmax: 734.1, row: 0, box: [1152, 47, 1348, 241], inset: 12 },
  { titles: [["Mn 2p"]], label: "Mn(W)", fitX: mnFitX, fitY: mnFitY, obs: mnObs, ticks: mnTicks, xmin: 632.9, xmax: 666.9, row: 1, box: [15, 393, 223, 590], inset: 12 },
  { titles: [["Ni 2p"]], label: "Ni(W)", fitX: niFitX, fitY: niFitY, obs: niObs, ticks: niTicks, xmin: 845.0, xmax: 889.0, row: 1, box: [240, 393, 509, 590], inset: 16 },
  { titles: [["Ta 4d", 640], ["W 4d", 737]], label: "Ta(W)", fitX: taFitX, fitY: taFitY, obs: taObs, ticks: taTicks, xmin: 220.1, xmax: 273.3, row: 1, box: [527, 393, 850, 590], inset: 19 },
  { titles: [["W 4d"]], label: "W(W)", fitX: wFitX, fitY: wFitY, obs: wObs, ticks: wTicks, xmin: 233.0, xmax: 273.2, row: 1, box: [867, 393, 1111, 590], inset: 15 },
  { titles: [["Zn 2p"]], label: "Zn(W)", fitX: znFitX, fitY: znFitY, obs: znObs, ticks: znTicks, xmin: 1015.0, xmax: 1054.9, row: 1, box: [1127, 393, 1370, 590], inset: 15 }
];

const PAD = 45;
const ROWS = [{ top: 0, height: 340 }, { top: 340, height: 344 }];
const wrap = document.getElementById("wrap");

function panelPlugin(p, canvasLeft) {
  return {
    id: "panelText",
    beforeDatasetsDraw(chart) {
      const { ctx, chartArea: a } = chart;
      ctx.save();
      ctx.strokeStyle = "#000";
      ctx.lineWidth = 1.2;
      ctx.strokeRect(a.left, a.top, a.right - a.left, a.bottom - a.top);
      ctx.restore();
    },
    afterDraw(chart) {
      const { ctx, chartArea: a } = chart;
      const cx = (a.left + a.right) / 2;
      ctx.save();
      ctx.fillStyle = "#000";
      ctx.textBaseline = "alphabetic";
      ctx.textAlign = "center";
      ctx.font = '24px "DejaVu Sans"';
      p.titles.forEach(([txt, x]) => {
        ctx.fillText(txt, x === undefined ? cx : x - canvasLeft, a.top - 11);
      });
      ctx.font = '32px "DejaVu Sans"';
      ctx.fillText("BE (eV)", cx, a.bottom + 87);
      ctx.font = '29px "Liberation Serif"';
      ctx.textAlign = "right";
      ctx.fillText(p.label, a.right - p.inset, a.top + 37);
      ctx.restore();
    }
  };
}

function makePanel(p) {
  const row = ROWS[p.row];
  const [l, t, r, b] = p.box;
  const canvasLeft = l - PAD;
  const w = r - l + 2 * PAD;

  const div = document.createElement("div");
  div.className = "panel";
  div.style.left = canvasLeft + "px";
  div.style.top = row.top + "px";
  div.style.width = w + "px";
  div.style.height = row.height + "px";
  const canvas = document.createElement("canvas");
  canvas.width = w;
  canvas.height = row.height;
  canvas.style.width = w + "px";
  canvas.style.height = row.height + "px";
  div.appendChild(canvas);
  wrap.appendChild(div);

  const points = [];
  p.obs.forEach(rowData => {
    rowData.slice(1).forEach(y => points.push({ x: rowData[0], y: y }));
  });
  const fit = p.fitX.map((x, i) => ({ x: x, y: p.fitY[i] }));

  new Chart(canvas, {
    type: "scatter",
    data: {
      datasets: [
        {
          data: points,
          pointRadius: 5.2,
          pointBorderWidth: 1,
          pointBorderColor: "#000",
          pointBackgroundColor: "#fff",
          clip: false,
          order: 2
        },
        {
          type: "line",
          data: fit,
          borderColor: "#1a3cff",
          borderWidth: 4,
          pointRadius: 0,
          cubicInterpolationMode: "monotone",
          fill: false,
          clip: false,
          order: 1
        }
      ]
    },
    options: {
      responsive: false,
      animation: false,
      events: [],
      layout: { padding: { left: PAD, right: PAD, top: t - row.top, bottom: 0 } },
      plugins: { legend: { display: false }, tooltip: { enabled: false } },
      scales: {
        x: {
          type: "linear",
          min: p.xmin,
          max: p.xmax,
          border: { display: false },
          grid: { drawOnChartArea: false, drawTicks: true, tickLength: 6, color: "#000", lineWidth: 1.2 },
          ticks: {
            autoSkip: false,
            maxRotation: 0,
            padding: 14,
            color: "#000",
            font: { family: "DejaVu Sans", size: 25 },
            callback: v => (Number.isInteger(v) ? String(v) : "")
          },
          afterBuildTicks: s => { s.ticks = p.ticks.map(v => ({ value: v })); },
          afterFit: s => { s.height = row.top + row.height - b; }
        },
        y: { display: false, min: 0, max: 100 }
      }
    },
    plugins: [panelPlugin(p, canvasLeft)]
  });
}

panels.forEach(makePanel);
</script>
</body>
</html>
